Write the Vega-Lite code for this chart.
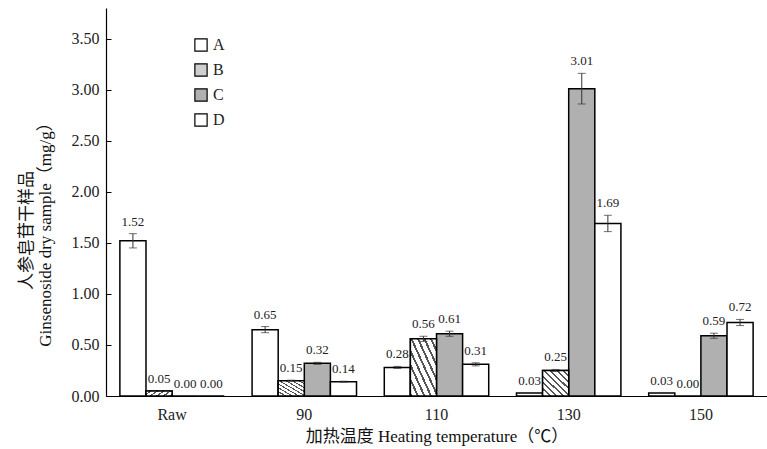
{
  "$schema": "https://vega.github.io/schema/vega-lite/v6.json",
  "width": 661,
  "height": 388,
  "autosize": {"type": "none"},
  "padding": {"left": 106, "top": 8, "right": 0, "bottom": 53},
  "background": "white",
  "config": {"view": {"stroke": null}, "font": "Liberation Serif"},
  "data": {
    "values": [
      {"t": "Raw", "s": "A", "v": 1.52, "lo": 1.45, "hi": 1.59},
      {"t": "Raw", "s": "B", "v": 0.05, "lo": 0.05, "hi": 0.05},
      {"t": "Raw", "s": "C", "v": 0.0, "lo": 0.0, "hi": 0.0},
      {"t": "Raw", "s": "D", "v": 0.0, "lo": 0.0, "hi": 0.0},
      {"t": "90", "s": "A", "v": 0.65, "lo": 0.62, "hi": 0.68},
      {"t": "90", "s": "B", "v": 0.15, "lo": 0.145, "hi": 0.155},
      {"t": "90", "s": "C", "v": 0.32, "lo": 0.31, "hi": 0.33},
      {"t": "90", "s": "D", "v": 0.14, "lo": 0.135, "hi": 0.145},
      {"t": "110", "s": "A", "v": 0.28, "lo": 0.27, "hi": 0.29},
      {"t": "110", "s": "B", "v": 0.56, "lo": 0.535, "hi": 0.585},
      {"t": "110", "s": "C", "v": 0.61, "lo": 0.585, "hi": 0.635},
      {"t": "110", "s": "D", "v": 0.31, "lo": 0.295, "hi": 0.325},
      {"t": "130", "s": "A", "v": 0.03, "lo": 0.03, "hi": 0.03},
      {"t": "130", "s": "B", "v": 0.25, "lo": 0.24, "hi": 0.26},
      {"t": "130", "s": "C", "v": 3.01, "lo": 2.86, "hi": 3.16},
      {"t": "130", "s": "D", "v": 1.69, "lo": 1.61, "hi": 1.77},
      {"t": "150", "s": "A", "v": 0.03, "lo": 0.03, "hi": 0.03},
      {"t": "150", "s": "B", "v": 0.0, "lo": 0.0, "hi": 0.0},
      {"t": "150", "s": "C", "v": 0.59, "lo": 0.565, "hi": 0.615},
      {"t": "150", "s": "D", "v": 0.72, "lo": 0.69, "hi": 0.75}
    ]
  },
  "encoding": {
    "x": {
      "field": "t", "type": "nominal", "sort": ["Raw", "90", "110", "130", "150"],
      "scale": {"paddingInner": 0.21, "paddingOuter": 0.105},
      "axis": {
        "title": "加热温度 Heating temperature（℃）",
        "titleFont": "Liberation Serif, Noto Sans CJK SC",
        "titleFontSize": 17, "titleFontWeight": "normal", "titleColor": "#111",
        "titlePadding": 6,
        "labelAngle": 0, "labelFontSize": 16, "labelColor": "#222", "labelPadding": 10,
        "ticks": false, "domainColor": "black", "domainWidth": 1.2
      }
    },
    "xOffset": {
      "field": "s", "type": "nominal", "sort": ["A", "B", "C", "D"],
      "scale": {"paddingInner": 0, "paddingOuter": 0}
    }
  },
  "layer": [
    {
      "mark": {"type": "bar", "stroke": "black", "strokeWidth": 1.5},
      "encoding": {
        "y": {
          "field": "v", "type": "quantitative",
          "scale": {"domain": [0, 3.8], "nice": false},
          "axis": {
            "title": ["人参皂苷干样品", "Ginsenoside dry sample（mg/g）"],
            "titleFont": "Liberation Serif, Noto Sans CJK SC",
            "titleFontSize": 17, "titleFontWeight": "normal", "titleColor": "#111",
            "titleLineHeight": 19, "titleY": 222, "titlePadding": 17,
            "values": [0, 0.5, 1, 1.5, 2, 2.5, 3, 3.5], "format": ".2f",
            "grid": false, "domainColor": "black", "domainWidth": 1.2,
            "tickColor": "black", "tickSize": -5, "labelPadding": 12,
            "labelFontSize": 16, "labelColor": "#222"
          }
        },
        "fill": {
          "field": "s", "type": "nominal",
          "scale": {"domain": ["A", "B", "C", "D"], "range": ["#ffffff", "#cfcfcf", "#b0b0b0", "#ffffff"]},
          "legend": {
            "title": null, "orient": "none", "legendX": 87, "legendY": 29,
            "symbolType": "square", "symbolSize": 150, "symbolStrokeColor": "black",
            "symbolStrokeWidth": 1.2, "labelFontSize": 16, "labelColor": "#222",
            "rowPadding": 7, "labelOffset": 4
          }
        }
      }
    },
    {
      "transform": [{"filter": "datum.s === 'B' && datum.v > 0"}],
      "mark": {
        "type": "bar", "stroke": "black", "strokeWidth": 1.5,
        "fill": {
          "gradient": "linear", "x1": 1, "y1": 0, "x2": 0, "y2": 1,
          "stops": [
            {"offset": 0, "color": "#ffffff"}, {"offset": 0.085, "color": "#ffffff"},
            {"offset": 0.085, "color": "#555555"}, {"offset": 0.125, "color": "#555555"},
            {"offset": 0.125, "color": "#ffffff"}, {"offset": 0.21, "color": "#ffffff"},
            {"offset": 0.21, "color": "#555555"}, {"offset": 0.25, "color": "#555555"},
            {"offset": 0.25, "color": "#ffffff"}, {"offset": 0.335, "color": "#ffffff"},
            {"offset": 0.335, "color": "#555555"}, {"offset": 0.375, "color": "#555555"},
            {"offset": 0.375, "color": "#ffffff"}, {"offset": 0.46, "color": "#ffffff"},
            {"offset": 0.46, "color": "#555555"}, {"offset": 0.5, "color": "#555555"},
            {"offset": 0.5, "color": "#ffffff"}, {"offset": 0.585, "color": "#ffffff"},
            {"offset": 0.585, "color": "#555555"}, {"offset": 0.625, "color": "#555555"},
            {"offset": 0.625, "color": "#ffffff"}, {"offset": 0.71, "color": "#ffffff"},
            {"offset": 0.71, "color": "#555555"}, {"offset": 0.75, "color": "#555555"},
            {"offset": 0.75, "color": "#ffffff"}, {"offset": 0.835, "color": "#ffffff"},
            {"offset": 0.835, "color": "#555555"}, {"offset": 0.875, "color": "#555555"},
            {"offset": 0.875, "color": "#ffffff"}, {"offset": 0.96, "color": "#ffffff"},
            {"offset": 0.96, "color": "#555555"}, {"offset": 1, "color": "#555555"}
          ]
        }
      },
      "encoding": {"y": {"field": "v", "type": "quantitative"}}
    },
    {
      "transform": [{"filter": "datum.hi > datum.lo"}],
      "mark": {"type": "rule", "color": "#333", "strokeWidth": 1},
      "encoding": {
        "y": {"field": "lo", "type": "quantitative"},
        "y2": {"field": "hi"}
      }
    },
    {
      "transform": [{"filter": "datum.hi > datum.lo"}],
      "mark": {"type": "tick", "color": "#333", "size": 8, "thickness": 1},
      "encoding": {"y": {"field": "lo", "type": "quantitative"}}
    },
    {
      "transform": [{"filter": "datum.hi > datum.lo"}],
      "mark": {"type": "tick", "color": "#333", "size": 8, "thickness": 1},
      "encoding": {"y": {"field": "hi", "type": "quantitative"}}
    },
    {
      "mark": {"type": "text", "baseline": "bottom", "dy": -5, "fontSize": 13, "color": "#222"},
      "encoding": {
        "y": {"field": "hi", "type": "quantitative"},
        "text": {"field": "v", "type": "quantitative", "format": ".2f"}
      }
    }
  ]
}
